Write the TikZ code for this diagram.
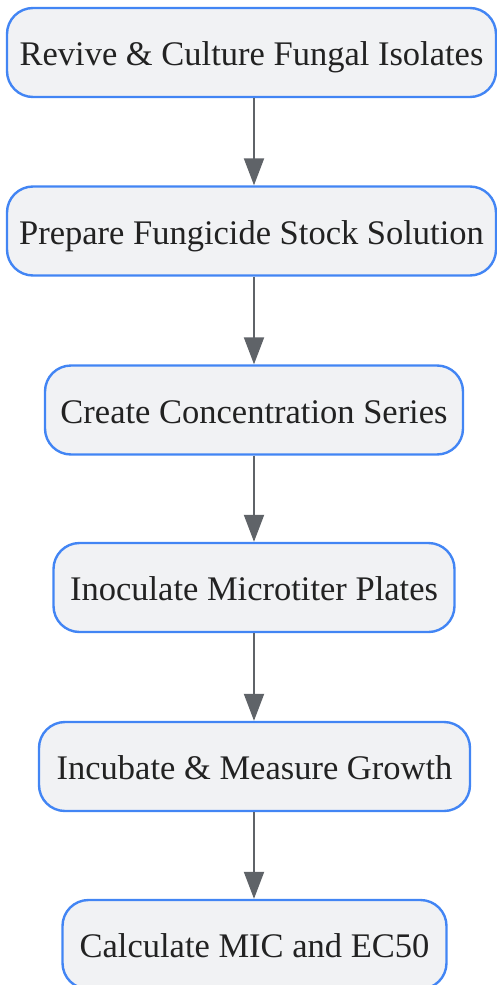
\documentclass[tikz,border=0pt]{standalone}
\usepackage{fontspec}
\setmainfont{Liberation Serif}
\usetikzlibrary{arrows.meta}

\definecolor{boxfill}{HTML}{F1F2F4}
\definecolor{boxline}{HTML}{4285F4}
\definecolor{arrowgray}{HTML}{5F6368}
\definecolor{textdark}{HTML}{222222}

\tikzset{
  stepbox/.style={draw=boxline, fill=boxfill, line width=2.4pt, rounded corners=26pt,
    minimum height=89pt, inner sep=0pt, text=textdark,
    text height=29pt, text depth=3pt,
    font=\fontsize{34.5}{40}\selectfont},
  flow/.style={draw=arrowgray, line width=2pt, -{Triangle[length=27pt,width=20pt]}}
}

\begin{document}
\begin{tikzpicture}[x=1pt,y=1pt]
  \useasboundingbox (0,0) rectangle (497,-985);
  \node[stepbox, minimum width=489pt] (revive) at (251.5,-52.5) {Revive \& Culture Fungal Isolates};
  \node[stepbox, minimum width=489pt] (prepare) at (251.5,-231) {Prepare Fungicide Stock Solution};
  \node[stepbox, minimum width=418pt] (series) at (254,-410) {Create Concentration Series};
  \node[stepbox, minimum width=401pt] (inoculate) at (254,-587.5) {Inoculate Microtiter Plates};
  \node[stepbox, minimum width=431pt] (incubate) at (254.5,-766.5) {Incubate \& Measure Growth};
  \node[stepbox, minimum width=384pt] (calc) at (254.5,-944.5) {Calculate MIC and EC50};

  \draw[flow] ([xshift=2.5pt]revive.south) -- ([xshift=2.5pt]prepare.north);
  \draw[flow] ([xshift=2.5pt]prepare.south) -- (series.north);
  \draw[flow] (series.south) -- (inoculate.north);
  \draw[flow] (inoculate.south) -- ([xshift=-0.5pt]incubate.north);
  \draw[flow] ([xshift=-0.5pt]incubate.south) -- ([xshift=-0.5pt]calc.north);
\end{tikzpicture}
\end{document}
